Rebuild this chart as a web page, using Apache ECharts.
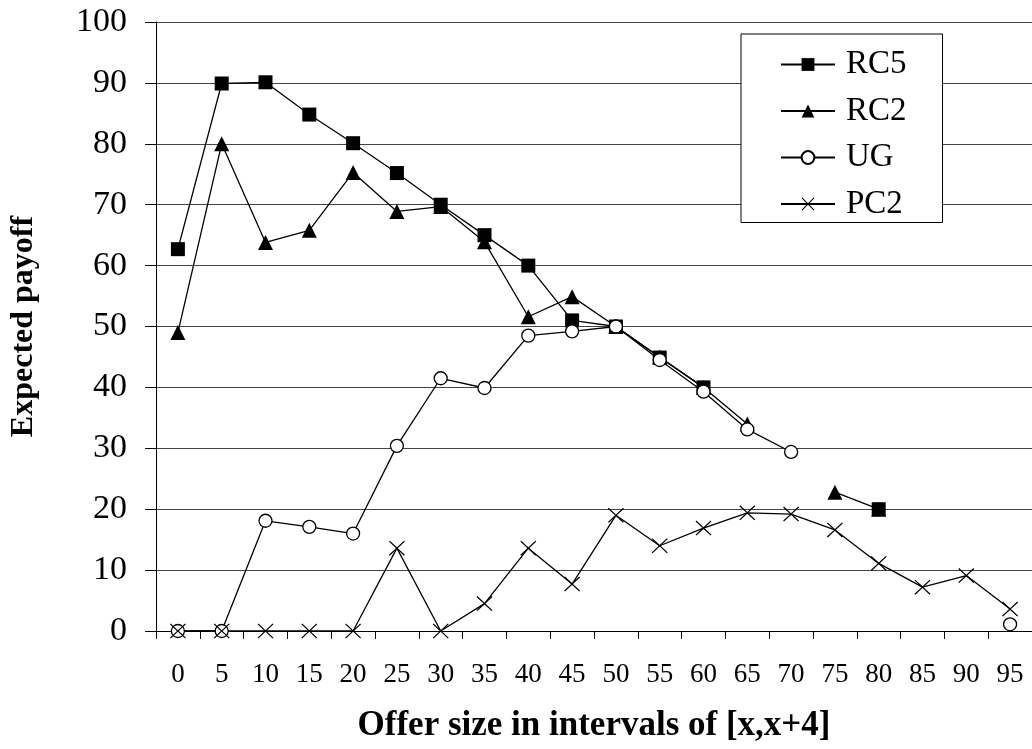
<!DOCTYPE html>
<html>
<head>
<meta charset="utf-8">
<script src="https://cdn.jsdelivr.net/npm/echarts@6/dist/echarts.min.js"></script>
<style>
html,body{margin:0;padding:0;background:#fff;}
#c{width:1032px;height:749px;}
</style>
</head>
<body>
<div id="c"></div>
<script>
var categories = ['0','5','10','15','20','25','30','35','40','45','50','55','60','65','70','75','80','85','90','95'];
var rc5 = [62.7, 89.9, 90.1, 84.8, 80.1, 75.2, 70, 65, 60, 51, 50, 44.9, 40, null, null, null, 20, null, null, null];
var rc2 = [49, 80, 63.8, 65.8, 75.3, 68.9, 69.7, 63.9, 51.6, 54.9, 50, 45, 40, 34, null, 22.8, 20, null, null, null];
var ug  = [0, 0, 18.1, 17.1, 16.0, 30.4, 41.5, 39.9, 48.5, 49.2, 50, 44.5, 39.3, 33.1, 29.4, null, null, null, null, 1.1];
var pc2 = [0, 0, 0, 0, 0, 13.6, 0, 4.5, 13.6, 7.7, 19.0, 14.0, 16.9, 19.4, 19.2, 16.6, 11.1, 7.2, 9.1, 3.6];
var seriesNames = ['RC5','RC2','UG','PC2'];
var yTicks = {min: 0, max: 100, interval: 10};

var FONT = "'Liberation Serif','Times New Roman',serif";
var crossPath = 'path://M0,0.9L0.9,0L8,7.1L15.1,0L16,0.9L8.9,8L16,15.1L15.1,16L8,8.9L0.9,16L0,15.1L7.1,8Z';

function lineSeries(name, data, symbol, size, itemStyle) {
  return {
    name: name, type: 'line', data: data,
    symbol: symbol, symbolSize: size, showSymbol: true,
    connectNulls: false, animation: false,
    lineStyle: {color: '#000', width: 1.3},
    itemStyle: itemStyle,
    emphasis: {disabled: true}
  };
}

var chart = echarts.init(document.getElementById('c'));
chart.setOption({
  backgroundColor: '#fff',
  animation: false,
  grid: {left: 153, top: 22, width: 880, height: 609, containLabel: false},
  legend: {
    orient: 'vertical',
    left: 741, top: 34,
    data: seriesNames,
    backgroundColor: '#fff',
    borderColor: '#000', borderWidth: 1,
    padding: [14, 36, 2, 39],
    itemWidth: 54, itemHeight: 16, itemGap: 13.5,
    textStyle: {fontFamily: FONT, fontSize: 33, color: '#000', lineHeight: 33, padding: [0,0,0,6]}
  },
  xAxis: {
    type: 'category', data: categories, boundaryGap: true,
    name: 'Offer size in intervals of [x,x+4]', nameLocation: 'middle', nameGap: 77,
    nameTextStyle: {fontFamily: FONT, fontSize: 35, fontWeight: 'bold', color: '#000'},
    axisLine: {lineStyle: {color: '#000', width: 1}},
    axisTick: {show: true, inside: false, length: 8, interval: 0, lineStyle: {color: '#000'}},
    axisLabel: {interval: 0, margin: 30, fontFamily: FONT, fontSize: 27, color: '#000'},
    splitLine: {show: false}
  },
  yAxis: {
    type: 'value', min: yTicks.min, max: yTicks.max, interval: yTicks.interval,
    name: 'Expected payoff', nameLocation: 'middle', nameGap: 116, nameRotate: 90,
    nameTextStyle: {fontFamily: FONT, fontSize: 32, fontWeight: 'bold', color: '#000'},
    axisLine: {show: true, lineStyle: {color: '#000', width: 1}},
    axisTick: {show: true, inside: false, length: 11, lineStyle: {color: '#000'}},
    axisLabel: {margin: 29, fontFamily: FONT, fontSize: 34, color: '#000'},
    splitLine: {show: true, lineStyle: {color: '#444', width: 1}}
  },
  series: [
    lineSeries('RC5', rc5, 'rect', 14, {color: '#000'}),
    lineSeries('RC2', rc2, 'triangle', 15, {color: '#000'}),
    lineSeries('UG', ug, 'circle', 13, {color: '#fff', borderColor: '#000', borderWidth: 1.3}),
    lineSeries('PC2', pc2, crossPath, [16, 15], {color: '#000'})
  ]
});
</script>
</body>
</html>
